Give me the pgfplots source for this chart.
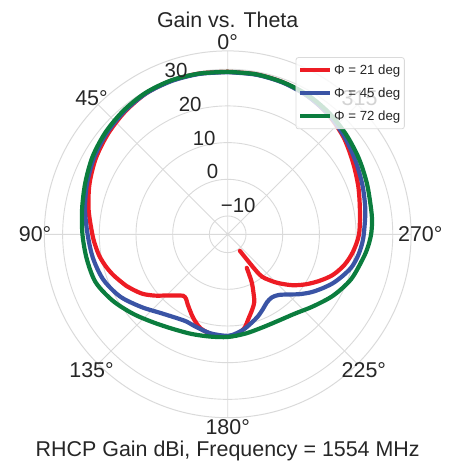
\documentclass[border=0pt]{standalone}
\usepackage{fontspec}
\setmainfont{Liberation Sans}
\usepackage{pgfplots}
\pgfplotsset{compat=1.18}
\usepgfplotslibrary{polar}
\usepackage{pgfplotstable}
\usetikzlibrary{calc}

\definecolor{cRed}{HTML}{ED1C24}
\definecolor{cBlue}{HTML}{3A54A5}
\definecolor{cGreen}{HTML}{0B7D3E}
\definecolor{cGrid}{HTML}{DADADA}
\definecolor{cText}{HTML}{262626}

% theta (deg, counter-clockwise from top), gain (dBi)
\pgfplotstableread{
t r
0 29.3
10 29.5
20 29.6
30 29.4
40 28.6
50 27.6
60 26.5
70 25.1
80 23.5
90 21.9
95 21.2
100 20.4
105 19.3
110 18.0
117 16.0
120 15.0
125 13.3
130 11.0
135 8.6
140 6.8
144 5.7
147 5.9
150 6.9
154 8.3
158 9.8
164 11.7
172 12.7
180 12.9
185 12.4
190 11.0
194 8.6
198 6.6
201.5 4.8
204 2.2
206.4 -0.1
208 -2.4
209.6 -4.5
}\redA

\pgfplotstableread{
t r
216.4 -9.4
218.3 -1.1
222.3 1.9
226.5 4.4
231.9 7.5
237.4 10.3
243 13.0
248.8 15.7
255.3 17.9
262.1 19.5
270 20.8
280 21.6
290 22.9
300 24.4
310 26.2
320 27.6
330 28.6
340 29.1
350 29.3
360 29.3
}\redB

\pgfplotstableread{
t r
0 29.2
10 29.4
20 29.5
30 29.4
40 28.8
50 28.0
60 27.0
70 25.8
80 24.5
90 23.2
100 22.3
110 21.1
120 18.9
130 15.8
140 13.1
150 11.6
155 11.3
160 11.6
170 12.4
180 12.7
185 12.1
190 11.2
195 10.0
200 8.9
205 7.6
210 6.4
215 6.0
220 6.6
225 8.2
230 10.4
235 12.6
240 14.6
245 16.6
250 18.3
255 19.9
260 20.9
265 21.6
270 22.1
280 23.1
290 24.1
300 25.2
310 26.5
320 27.7
330 28.5
340 29.0
350 29.2
360 29.2
}\blue

\pgfplotstableread{
t r
0 29.3
10 29.5
20 29.7
30 29.6
40 29.1
50 28.4
60 27.5
70 26.3
80 25.3
90 24.6
100 24.0
110 23.3
120 21.2
130 18.7
140 16.4
150 14.8
160 13.9
170 13.3
180 13.0
190 12.5
200 12.1
210 12.3
220 13.3
230 15.5
240 18.3
250 20.8
260 22.5
265 23.4
270 24.1
275 24.5
280 24.7
290 25.4
300 26.3
310 27.2
320 28.1
330 28.8
340 29.1
350 29.3
360 29.3
}\green

\begin{document}
\begin{tikzpicture}[font=\fontsize{21.5}{24}\selectfont, text=cText]
\begin{polaraxis}[
  name=ax,
  scale only axis, width=366.8bp, height=366.8bp,
  xmin=0, xmax=360, ymin=0, ymax=50,
  xtick={0,45,...,315}, ytick={5,15,25,35,45},
  xticklabels={}, yticklabels={},
  grid=major, grid style={cGrid, line width=0.9bp},
  major tick length=0pt,
  axis line style={cGrid, line width=1bp},
  clip=false,
  legend cell align=left,
  legend style={at={(axis description cs:0.685,0.983)}, anchor=north west,
    draw=cGrid, line width=0.8bp, rounded corners=2.5bp, fill=white,
    fill opacity=0.8, draw opacity=1, text opacity=1,
    font=\fontsize{13.3}{16}\selectfont, text=cText,
    inner xsep=2bp, inner ysep=5bp, row sep=8bp,
    nodes={inner sep=2bp}},
  legend image code/.code={\draw[#1, line cap=butt] (0bp,0bp) -- (30bp,0bp);},
]
\addplot[cRed, line width=4.2bp, smooth, tension=0.5, line cap=round, line join=round] table[x expr=\thisrow{t}+90, y expr=\thisrow{r}+15]{\redA};
\addlegendentry{Φ = 21 deg}
\addplot[cRed, line width=4.2bp, smooth, tension=0.5, line cap=round, line join=round, forget plot] table[x expr=\thisrow{t}+90, y expr=\thisrow{r}+15]{\redB};
\addplot[cBlue, line width=4.2bp, smooth, tension=0.5, line cap=round, line join=round] table[x expr=\thisrow{t}+90, y expr=\thisrow{r}+15]{\blue};
\addlegendentry{Φ = 45 deg}
\addplot[cGreen, line width=4.2bp, smooth, tension=0.5, line cap=round, line join=round] table[x expr=\thisrow{t}+90, y expr=\thisrow{r}+15]{\green};
\addlegendentry{Φ = 72 deg}
\coordinate (C) at (axis cs:0,0);
% angle labels (theta measured counter-clockwise from top)
\node at (axis cs:90,52.5) {0°};
\node at (axis cs:135,52.5) {45°};
\node at (axis cs:180,52.5) {90°};
\node at (axis cs:225,52.5) {135°};
\node at (axis cs:270,52.5) {180°};
\node at (axis cs:315,52.5) {225°};
\node at (axis cs:0,52.5) {270°};
\node at (axis cs:45,52.5) {315°};
% radial labels
\node[anchor=base west, inner sep=0pt, yshift=4.5bp, font=\fontsize{20.5}{24}\selectfont] at (axis cs:112.5,5) {−10};
\node[anchor=base west, inner sep=0pt, yshift=4.5bp, font=\fontsize{20.5}{24}\selectfont] at (axis cs:112.5,15) {0};
\node[anchor=base west, inner sep=0pt, yshift=4.5bp, font=\fontsize{20.5}{24}\selectfont] at (axis cs:112.5,25) {10};
\node[anchor=base west, inner sep=0pt, yshift=4.5bp, font=\fontsize{20.5}{24}\selectfont] at (axis cs:112.5,35) {20};
\node[anchor=base west, inner sep=0pt, yshift=4.5bp, font=\fontsize{20.5}{24}\selectfont] at (axis cs:112.5,45) {30};
\end{polaraxis}
\node[anchor=base] at ($(C)+(0bp,207bp)$) {Gain vs. Theta};
\node[anchor=base] at ($(C)+(0bp,-221.7bp)$) {RHCP Gain dBi, Frequency = 1554 MHz};
\pgfresetboundingbox
\path[use as bounding box] ($(C)+(-227.7bp,234.3bp)$) rectangle ($(C)+(229.3bp,-231.7bp)$);
\end{tikzpicture}
\end{document}
